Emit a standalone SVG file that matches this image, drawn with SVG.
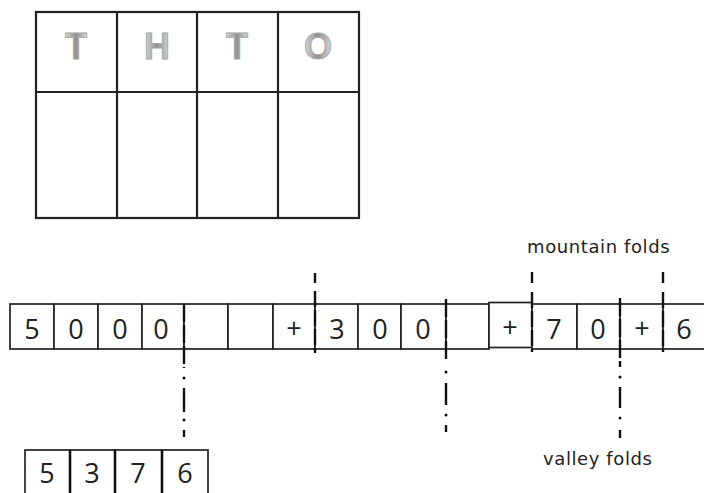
<svg xmlns="http://www.w3.org/2000/svg" width="704" height="493" viewBox="0 0 704 493">
<defs>
<linearGradient id="metal" x1="0" y1="0" x2="1" y2="0">
<stop offset="0" stop-color="#dcdcdc"/>
<stop offset="0.5" stop-color="#8e8e8e"/>
<stop offset="1" stop-color="#dcdcdc"/>
</linearGradient>
</defs>
<style>
.box{fill:#fff;stroke:#222;stroke-width:1.7}
.grid{fill:none;stroke:#222;stroke-width:2.2}
.hd{font-family:"Liberation Sans",Arial,sans-serif;font-weight:bold;font-size:36px;fill:url(#metal);stroke:#a8a8a8;stroke-width:1;stroke-linejoin:round;text-anchor:middle}
.dg{font-family:"Open Sans","Liberation Sans",sans-serif;font-size:27px;fill:#222;text-anchor:middle}
.lbl{font-family:"DejaVu Sans",sans-serif;font-size:18px;letter-spacing:0.6px;fill:#222}
.mtn{stroke:#111;stroke-width:2.4;fill:none}
.val{stroke:#111;stroke-width:2.4;fill:none}
.dot{fill:#111}
</style>

<g id="place-value-table">
<rect class="grid" x="36" y="12" width="323" height="206"/>
<line class="grid" x1="36" y1="92" x2="359" y2="92"/>
<line class="grid" x1="117" y1="12" x2="117" y2="218"/>
<line class="grid" x1="197" y1="12" x2="197" y2="218"/>
<line class="grid" x1="278" y1="12" x2="278" y2="218"/>
<text class="hd" x="76" y="59">T</text>
<text class="hd" x="157" y="59">H</text>
<text class="hd" x="237" y="59">T</text>
<text class="hd" x="318" y="59">O</text>
</g>

<g id="strip">
<g id="s1"><rect class="box" x="10" y="304" width="44" height="45"/><text class="dg" x="32" y="339">5</text></g>
<g id="s2"><rect class="box" x="54" y="304" width="44" height="45"/><text class="dg" x="76" y="339">0</text></g>
<g id="s3"><rect class="box" x="98" y="304" width="44" height="45"/><text class="dg" x="120" y="339">0</text></g>
<g id="s4"><rect class="box" x="142" y="304" width="42" height="45"/><text class="dg" x="161" y="339">0</text></g>
<g id="s5"><rect class="box" x="184" y="304" width="44" height="45"/></g>
<g id="s6"><rect class="box" x="228" y="304" width="45" height="45"/></g>
<g id="s7"><rect class="box" x="273" y="304" width="42" height="45"/><text class="dg" x="294" y="338">+</text></g>
<g id="s8"><rect class="box" x="315" y="304" width="43" height="45"/><text class="dg" x="337" y="339">3</text></g>
<g id="s9"><rect class="box" x="358" y="304" width="43" height="45"/><text class="dg" x="380" y="339">0</text></g>
<g id="s10"><rect class="box" x="401" y="304" width="45" height="45"/><text class="dg" x="423" y="339">0</text></g>
<g id="s11"><rect class="box" x="446" y="304" width="43" height="45"/></g>
<g id="s12"><rect class="box" x="489" y="302.5" width="43" height="45"/><text class="dg" x="510" y="337">+</text></g>
<g id="s13"><rect class="box" x="532" y="304" width="45" height="45"/><text class="dg" x="554" y="339">7</text></g>
<g id="s14"><rect class="box" x="577" y="304" width="43" height="45"/><text class="dg" x="598" y="339">0</text></g>
<g id="s15"><rect class="box" x="620" y="304" width="43" height="45"/><text class="dg" x="642" y="338">+</text></g>
<g id="s16"><rect class="box" x="663" y="304" width="45" height="45"/><text class="dg" x="684" y="339">6</text></g>
</g>

<g id="result">
<g id="r1"><rect class="box" x="25" y="450" width="45" height="50"/><text class="dg" x="47" y="483">5</text></g>
<g id="r2"><rect class="box" x="70" y="450" width="45" height="50"/><text class="dg" x="92" y="483">3</text></g>
<g id="r3"><rect class="box" x="115" y="450" width="47" height="50"/><text class="dg" x="138" y="483">7</text></g>
<g id="r4"><rect class="box" x="162" y="450" width="46" height="50"/><text class="dg" x="185" y="483">6</text></g>
<line x1="70" y1="450" x2="70" y2="493" stroke="#111" stroke-width="2.6"/>
<line x1="115" y1="450" x2="115" y2="493" stroke="#111" stroke-width="2.6"/>
<line x1="162" y1="450" x2="162" y2="493" stroke="#111" stroke-width="2.6"/>
</g>

<g id="folds">
<g id="mountain-315">
<line class="mtn" x1="315" y1="273" x2="315" y2="283"/>
<line class="mtn" x1="315" y1="291" x2="315" y2="353" stroke-dasharray="16 3"/>
</g>
<g id="mountain-532">
<line class="mtn" x1="532" y1="272" x2="532" y2="283"/>
<line class="mtn" x1="532" y1="292" x2="532" y2="352" stroke-dasharray="16 3"/>
</g>
<g id="mountain-663">
<line class="mtn" x1="663" y1="272" x2="663" y2="283"/>
<line class="mtn" x1="663" y1="292" x2="663" y2="352" stroke-dasharray="16 3"/>
</g>
<g id="valley-184">
<line class="val" x1="184" y1="304" x2="184" y2="368" stroke-dasharray="18 3"/>
<circle class="dot" cx="184" cy="378" r="1.5"/>
<line class="val" x1="184" y1="388" x2="184" y2="412"/>
<circle class="dot" cx="184" cy="420" r="1.5"/>
<line class="val" x1="184" y1="430" x2="184" y2="437"/>
</g>
<g id="valley-446">
<line class="val" x1="446" y1="299" x2="446" y2="362" stroke-dasharray="18 3"/>
<circle class="dot" cx="446" cy="372" r="1.5"/>
<line class="val" x1="446" y1="383" x2="446" y2="405"/>
<circle class="dot" cx="446" cy="415" r="1.5"/>
<line class="val" x1="446" y1="425" x2="446" y2="432"/>
</g>
<g id="valley-620">
<line class="val" x1="620" y1="298" x2="620" y2="367" stroke-dasharray="18 3"/>
<circle class="dot" cx="620" cy="377" r="1.5"/>
<line class="val" x1="620" y1="387" x2="620" y2="408"/>
<circle class="dot" cx="620" cy="418" r="1.5"/>
<line class="val" x1="620" y1="430" x2="620" y2="438"/>
</g>
</g>

<g id="labels">
<text class="lbl" x="527" y="253">mountain folds</text>
<text class="lbl" x="543" y="465">valley folds</text>
</g>
</svg>
